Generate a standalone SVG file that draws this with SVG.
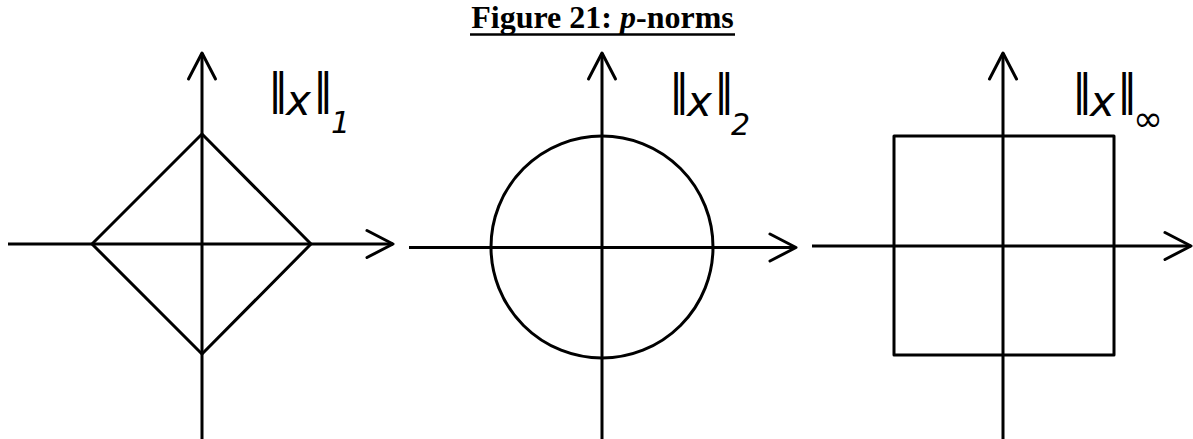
<svg xmlns="http://www.w3.org/2000/svg" width="1193" height="439" viewBox="0 0 1193 439">
<style>
.ln{fill:none;stroke:#000;stroke-width:3;stroke-linejoin:round}
.lab{font-family:"DejaVu Sans",sans-serif;font-size:42px;fill:#000}
.bar{letter-spacing:-8px}
.it{font-style:italic}
.sub{font-size:30px;font-style:italic}
.title{font-family:"Liberation Serif","Times New Roman",serif;font-size:32px;font-weight:bold;fill:#000}
</style>
<defs>
<marker id="arr" markerUnits="userSpaceOnUse" markerWidth="32" markerHeight="32" refX="28" refY="16" orient="auto" overflow="visible">
<path d="M2,2.5 L28,16 L2,29.5" fill="none" stroke="#000" stroke-width="3" stroke-linejoin="round" stroke-linecap="round"/>
</marker>
</defs>
<rect width="1193" height="439" fill="#fff"/>
<g id="title">
<text class="title" x="602.5" y="28" text-anchor="middle">Figure 21: <tspan font-style="italic">p</tspan>-norms</text>
<line x1="470" y1="34.5" x2="735" y2="34.5" stroke="#000" stroke-width="2.5"/>
</g>
<g id="connectors">
<line class="ln" x1="202" y1="439" x2="202" y2="53" marker-end="url(#arr)"/>
<line class="ln" x1="8" y1="244" x2="393" y2="244" marker-end="url(#arr)"/>
<line class="ln" x1="602" y1="439" x2="602" y2="53" marker-end="url(#arr)"/>
<line class="ln" x1="409" y1="247.5" x2="796" y2="247.5" marker-end="url(#arr)"/>
<line class="ln" x1="1003" y1="439" x2="1003" y2="53" marker-end="url(#arr)"/>
<line class="ln" x1="812" y1="246" x2="1191" y2="246" marker-end="url(#arr)"/>
</g>
<g id="norm1">
<polygon class="ln" points="202,134 311,244 202,354 92,244"/>
<text class="lab"><tspan class="bar" x="268" y="104">||</tspan><tspan class="it" x="286" y="115">x</tspan><tspan class="bar" x="313" y="104">||</tspan><tspan class="sub" x="331" y="133">1</tspan></text>
</g>
<g id="norm2">
<circle class="ln" cx="602" cy="247" r="111"/>
<text class="lab"><tspan class="bar" x="669" y="105">||</tspan><tspan class="it" x="687" y="116">x</tspan><tspan class="bar" x="714" y="105">||</tspan><tspan class="sub" font-style="normal" x="731" y="135">2</tspan></text>
</g>
<g id="norminf">
<rect class="ln" x="894" y="136" width="220" height="219"/>
<text class="lab"><tspan class="bar" x="1072" y="105">||</tspan><tspan class="it" x="1090" y="116">x</tspan><tspan class="bar" x="1117" y="105">||</tspan><tspan font-size="36px" x="1133" y="131">∞</tspan></text>
</g>
</svg>
